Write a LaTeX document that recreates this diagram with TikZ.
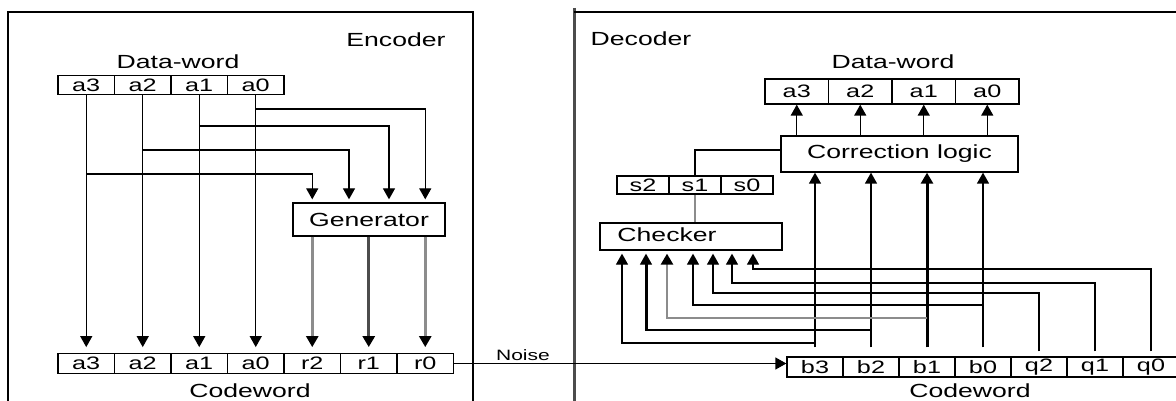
\documentclass[tikz,border=0pt]{standalone}
\usepackage{fontspec}
\setmainfont{Liberation Sans}
\usetikzlibrary{arrows.meta}
\newcommand{\wtxt}[1]{\scalebox{1.4}[1]{#1}}
\tikzset{
  cellE/.style={draw, line width=1.3pt, inner sep=0pt, minimum width=56.5pt, minimum height=19.5pt, font=\fontsize{18pt}{18pt}\selectfont},
  cellD/.style={draw, line width=1.3pt, inner sep=0pt, minimum width=63.5pt, minimum height=25pt, font=\fontsize{18pt}{18pt}\selectfont},
  cellS/.style={draw, line width=1.3pt, inner sep=0pt, minimum width=52pt, minimum height=18pt, font=\fontsize{18pt}{18pt}\selectfont},
  cellC/.style={draw, line width=1.3pt, inner sep=0pt, minimum width=56pt, minimum height=20pt, font=\fontsize{18pt}{18pt}\selectfont},
  lbl/.style={inner sep=0pt, font=\fontsize{19pt}{19pt}\selectfont},
  blk/.style={draw, line width=1.3pt, inner sep=0pt, font=\fontsize{19pt}{19pt}\selectfont},
  wire/.style={line width=1.3pt},
  arr/.style={line width=1.3pt, -{Triangle[length=11pt,width=12pt,color=black]}},
  grayw/.style={line width=2.5pt, draw=black!45},
  thickw/.style={line width=3pt},
}
\begin{document}
\begin{tikzpicture}[x=1pt,y=-1pt]
\useasboundingbox[fill=white] (0,0) rectangle (1176,401);
% ---------------- Encoder ----------------
\draw[wire] (8,405) -- (8,12) -- (473,12) -- (473,405);
\node[lbl] (enc) at (396,40) {\wtxt{Encoder}};
\node[lbl] (edw) at (178,62) {\wtxt{Data-word}};
\node[cellE] (ea3) at (86.25,85) {\wtxt{a3}};
\node[cellE] (ea2) at (142.75,85) {\wtxt{a2}};
\node[cellE] (ea1) at (199.25,85) {\wtxt{a1}};
\node[cellE] (ea0) at (255.75,85) {\wtxt{a0}};
\node[cellE] (ca3) at (86.25,363.5) {\wtxt{a3}};
\node[cellE] (ca2) at (142.75,363.5) {\wtxt{a2}};
\node[cellE] (ca1) at (199.25,363.5) {\wtxt{a1}};
\node[cellE] (ca0) at (255.75,363.5) {\wtxt{a0}};
\node[cellE] (cr2) at (312.25,363.5) {\wtxt{r2}};
\node[cellE] (cr1) at (368.75,363.5) {\wtxt{r1}};
\node[cellE] (cr0) at (425.25,363.5) {\wtxt{r0}};
\node[lbl] (ecw) at (250,391) {\wtxt{Codeword}};
\node[blk, minimum width=152pt, minimum height=33pt] (gen) at (369,219.5) {\wtxt{Generator}};
% straight data bits
\draw[arr, shorten >=6pt] (ea3.south) -- (ca3.north);
\draw[arr, shorten >=6pt] (ea2.south) -- (ca2.north);
\draw[arr, shorten >=6pt] (ea1.south) -- (ca1.north);
\draw[arr, shorten >=6pt] (ea0.south) -- (ca0.north);
% branches into generator
\draw[arr, shorten >=3pt] (ea0.south |- 0,109) -| (gen.north -| cr0.north);
\draw[arr, shorten >=3pt] (ea1.south |- 0,126) -| (gen.north -| 389,0);
\draw[arr, shorten >=3pt] (ea2.south |- 0,150) -| (gen.north -| 349,0);
\draw[arr, shorten >=3pt] (ea3.south |- 0,174) -| (gen.north -| cr2.north);
% generator outputs
\draw[arr, grayw, shorten >=6pt] (gen.south -| cr2.north) -- (cr2.north);
\draw[arr, thickw, draw=black!70, shorten >=6pt] (gen.south -| cr1.north) -- (cr1.north);
\draw[arr, grayw, shorten >=6pt] (gen.south -| cr0.north) -- (cr0.north);
% ---------------- Noise ----------------
\node[inner sep=0pt, font=\fontsize{15pt}{15pt}\selectfont] (noise) at (523,355) {\wtxt{Noise}};
% ---------------- Decoder ----------------
\draw[line width=3pt, draw=black!70] (574,8) -- (574,405);
\draw[wire] (574,12) -- (1180,12);
\node[lbl] (dec) at (641,39) {\wtxt{Decoder}};
\node[lbl] (ddw) at (893,62) {\wtxt{Data-word}};
\node[cellD] (da3) at (796.75,91.5) {\wtxt{a3}};
\node[cellD] (da2) at (860.25,91.5) {\wtxt{a2}};
\node[cellD] (da1) at (923.75,91.5) {\wtxt{a1}};
\node[cellD] (da0) at (987.25,91.5) {\wtxt{a0}};
\node[blk, minimum width=237pt, minimum height=36pt] (corr) at (899.5,154) {\wtxt{Correction logic}};
\draw[arr] (corr.north -| da3.south) -- (da3.south);
\draw[arr] (corr.north -| da2.south) -- (da2.south);
\draw[arr] (corr.north -| da1.south) -- (da1.south);
\draw[arr] (corr.north -| da0.south) -- (da0.south);
\node[cellS] (ss2) at (643,185) {\wtxt{s2}};
\node[cellS] (ss1) at (695,185) {\wtxt{s1}};
\node[cellS] (ss0) at (747,185) {\wtxt{s0}};
\draw[line width=2pt] ([yshift=4pt]corr.west) -| (ss1.north);
\node[blk, minimum width=182pt, minimum height=27pt] (chk) at (691,236.5) {};
\node[lbl] (chkt) at (667,235) {\wtxt{Checker}};
\draw[grayw] (ss1.south) -- (ss1.south |- chk.north);
% received codeword
\node[cellC] (db3) at (815,367) {\wtxt{b3}};
\node[cellC] (db2) at (871,367) {\wtxt{b2}};
\node[cellC] (db1) at (927,367) {\wtxt{b1}};
\node[cellC] (db0) at (983,367) {\wtxt{b0}};
\node[cellC] (dq2) at (1039,367) {\wtxt{q2}};
\node[cellC] (dq1) at (1095,367) {\wtxt{q1}};
\node[cellC] (dq0) at (1151,367) {\wtxt{q0}};
\node[lbl] (dcw) at (970,391) {\wtxt{Codeword}};
\draw[arr] (cr0.east) -- (cr0.east -| db3.west);
% b lines to correction logic
\draw[arr] ([yshift=9pt]db3.north) -- (db3.north |- corr.south);
\draw[arr] ([yshift=9pt]db2.north) -- (db2.north |- corr.south);
\draw[arr, thickw] ([yshift=9pt]db1.north) -- (db1.north |- corr.south);
\draw[arr] ([yshift=9pt]db0.north) -- (db0.north |- corr.south);
% feeds into checker
\draw[arr, shorten >=3pt] (db3.north |- 0,343) -| (chk.south -| 622,0);
\draw[arr, shorten >=3pt] (db2.north |- 0,330) -- (646,330) -- (chk.south -| 646,0);
\draw[thickw] (646,330) -- (646,262);
\draw[arr, grayw, shorten >=3pt] (db1.north |- 0,318) -| (chk.south -| 667,0);
\draw[arr, shorten >=3pt] (db0.north |- 0,305) -| (chk.south -| 693,0);
\draw[arr, shorten >=3pt] ([yshift=5pt]dq2.north) -- (dq2.north |- 0,293) -| (chk.south -| 713,0);
\draw[arr, shorten >=3pt] ([yshift=5pt]dq1.north) -- (dq1.north |- 0,283) -| (chk.south -| 732,0);
\draw[arr, shorten >=3pt] ([yshift=5pt]dq0.north) -- (dq0.north |- 0,269) -| (chk.south -| 753,0);
\end{tikzpicture}
\end{document}
